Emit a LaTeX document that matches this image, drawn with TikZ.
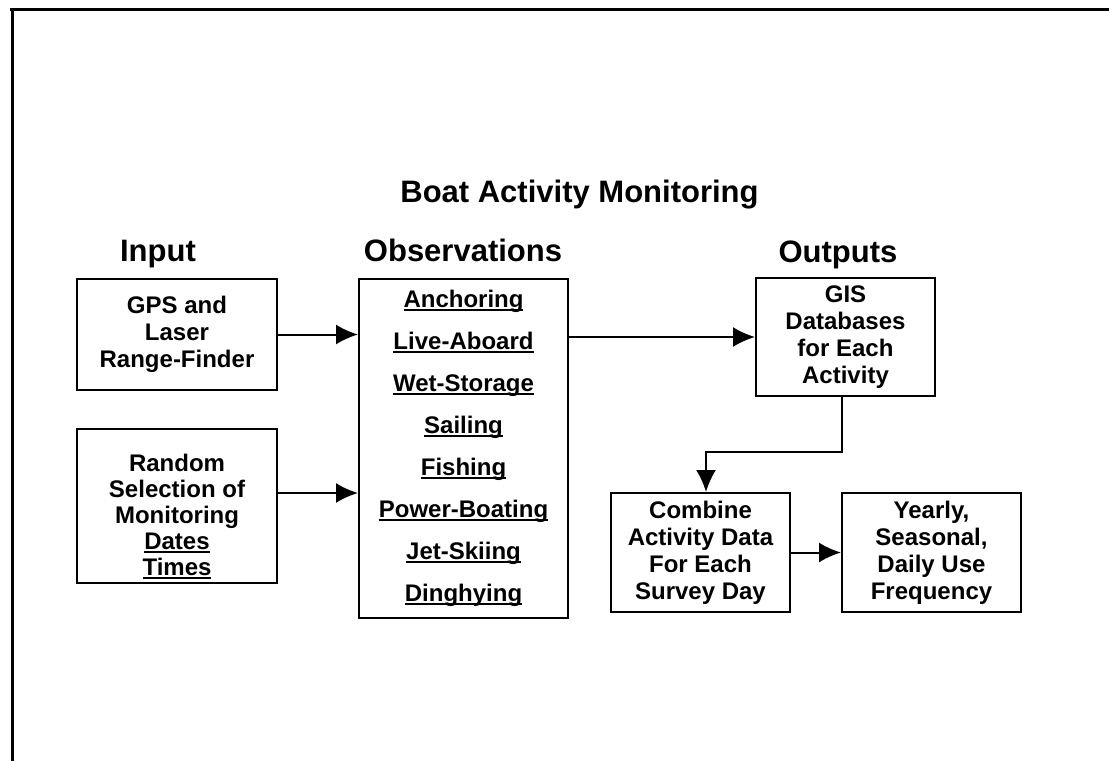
\documentclass[tikz,border=0pt]{standalone}
\usepackage{fontspec}
\setmainfont{Liberation Sans}
\usetikzlibrary{arrows.meta}
% underlined word with a heavy rule
\newcommand\undl[1]{\setbox0\hbox{#1}\rlap{\rule[-3.2pt]{\wd0}{1.8pt}}\box0}

\begin{document}
\begin{tikzpicture}[x=1pt,y=-1pt,
  box/.style={draw,line width=2pt,inner sep=0pt,align=center,
              font=\bfseries\fontsize{24}{27}\selectfont},
  head/.style={font=\bfseries\fontsize{31}{36}\selectfont,anchor=base},
  link/.style={line width=2pt,-{Latex[length=22pt,width=20pt]}}]
\useasboundingbox (0,0) rectangle (1109,761);

% frame
\draw[line width=3pt] (10,9.5) -- (1109,9.5);
\draw[line width=3pt] (12,8) -- (12,761);

% headings
\node[head] (title) at (579.5,202) {Boat Activity Monitoring};
\node[head] (hin)   at (158,261) {Input};
\node[head] (hobs)  at (463,261) {Observations};
\node[head] (hout)  at (838,262) {Outputs};

% boxes
\node[box,minimum width=200pt,minimum height=111pt] (gps) at (177,334.5)
  {GPS and\\Laser\\Range-Finder};
\node[box,minimum width=200pt,minimum height=154pt] (rand) at (177,506) {};
\node[box,draw=none,anchor=north,font=\bfseries\fontsize{24}{26}\selectfont]
  (randtxt) at (177,453)
  {Random\\Selection of\\Monitoring\\\undl{Dates}\\\undl{Times}};
\node[box,minimum width=209pt,minimum height=339pt,
      font=\bfseries\fontsize{24}{42}\selectfont] (obs) at (463.5,448.5)
  {\undl{Anchoring}\\\undl{Live-Aboard}\\\undl{Wet-Storage}\\\undl{Sailing}\\
   \undl{Fishing}\\\undl{Power-Boating}\\\undl{Jet-Skiing}\\\undl{Dinghying}};
\node[box,minimum width=179pt,minimum height=118pt] (gis) at (845.5,337)
  {GIS\\Databases\\for Each\\Activity};
\node[box,minimum width=179pt,minimum height=119pt] (comb) at (700.5,552.5)
  {Combine\\Activity Data\\For Each\\Survey Day};
\node[box,minimum width=179pt,minimum height=119pt] (year) at (931.5,552.5)
  {Yearly,\\Seasonal,\\Daily Use\\Frequency};

% connectors
\coordinate (bend) at (0,452);
\draw[link] (gps.east) -- (gps.east -| obs.west);
\draw[link] ([yshift=13pt]rand.east) -- ([yshift=13pt]rand.east -| obs.west);
\draw[link] (obs.east |- gis.west) -- (gis.west);
\draw[link] ([xshift=-3.5pt]gis.south) -- ([xshift=-3.5pt]gis.south |- bend)
  -| ([xshift=5.5pt]comb.north);
\draw[link] (comb.east) -- (year.west);
\end{tikzpicture}
\end{document}
